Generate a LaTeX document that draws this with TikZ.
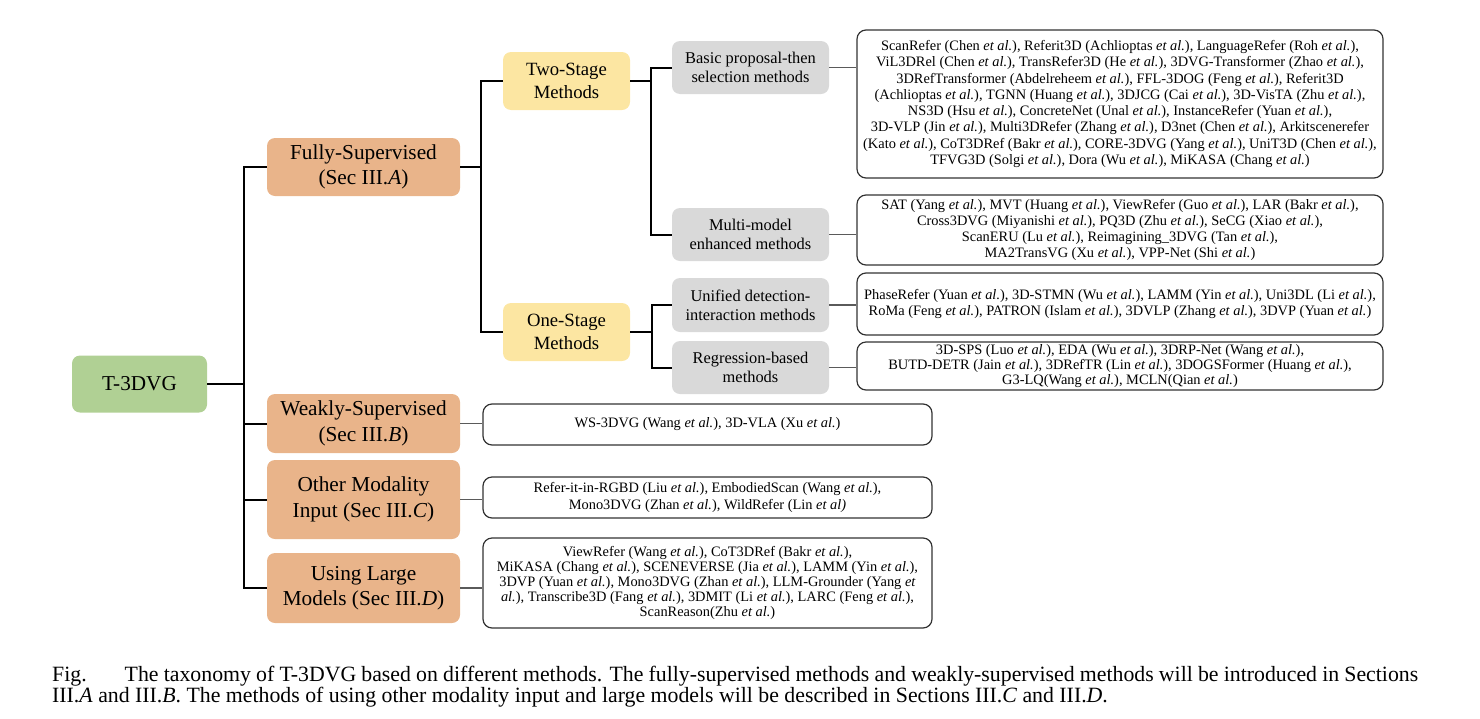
\documentclass[tikz,border=0pt]{standalone}
\usepackage{fontspec}
\setmainfont{Liberation Serif}
\usetikzlibrary{positioning}
\definecolor{rootgreen}{RGB}{176,208,148}
\definecolor{catorange}{RGB}{233,180,138}
\definecolor{stageyellow}{RGB}{252,230,162}
\definecolor{methgray}{RGB}{217,217,217}
\definecolor{leafedge}{RGB}{50,50,50}
\definecolor{leaflink}{RGB}{90,90,90}
\newcommand{\etal}{\textit{et al.}}

\begin{document}
\begin{tikzpicture}[x=1pt, y=-1pt,
  box/.style={rounded corners=8pt, align=center, inner sep=0pt},
  rootbox/.style={box, fill=rootgreen, minimum width=135pt, minimum height=57pt, font=\fontsize{21.2}{25}\selectfont},
  catbox/.style={box, fill=catorange, minimum width=193pt, font=\fontsize{21.3}{25.5}\selectfont},
  stagebox/.style={box, fill=stageyellow, minimum width=127pt, minimum height=58pt, font=\fontsize{18.7}{22.5}\selectfont},
  methbox/.style={box, fill=methgray, minimum width=157pt, minimum height=53pt, font=\fontsize{16.4}{19}\selectfont},
  leafbox/.style={draw=leafedge, line width=1.2pt, rounded corners=9pt, align=center, inner sep=0pt, font=\fontsize{14.4}{16.3}\selectfont},
  tree/.style={line width=2pt},
  leaflink/.style={draw=leaflink, line width=1.3pt}]
\useasboundingbox (0,0) rectangle (1480,718);

\node[rootbox] at (139.5,384) (root) {T-3DVG} ;
\node[catbox, minimum height=58pt] at (363.5,167) (fully) {Fully-Supervised\\(Sec III.\textit{A})} ;
\node[catbox, minimum height=59pt] at (363.5,423.5) (weakly) {Weakly-Supervised\\(Sec III.\textit{B})} ;
\node[catbox, minimum height=79pt] at (363.5,499.5) (other) {Other Modality\\Input (Sec III.\textit{C})} ;
\node[catbox, minimum height=70pt] at (363.5,588) (large) {Using Large\\Models (Sec III.\textit{D})} ;

\node[stagebox] at (566.5,81) (twostage) {Two-Stage\\Methods} ;
\node[stagebox] at (566.5,332) (onestage) {One-Stage\\Methods} ;

\node[methbox] at (750.5,67.5) (basic) {Basic proposal-then\\selection methods} ;
\node[methbox] at (750.5,234.5) (multi) {Multi-model\\enhanced methods} ;
\node[methbox, minimum height=54pt] at (750.5,305) (unified) {Unified detection-\\interaction methods} ;
\node[methbox] at (750.5,367.5) (regress) {Regression-based\\methods} ;

\node[leafbox, minimum width=526pt, minimum height=148pt] at (1120,104) (lbasic) {ScanRefer (Chen \etal), Referit3D (Achlioptas \etal), LanguageRefer (Roh \etal),\\ViL3DRel (Chen \etal), TransRefer3D (He \etal), 3DVG-Transformer (Zhao \etal),\\3DRefTransformer (Abdelreheem \etal), FFL-3DOG (Feng \etal), Referit3D\\(Achlioptas \etal), TGNN (Huang \etal), 3DJCG (Cai \etal), 3D-VisTA (Zhu \etal),\\NS3D (Hsu \etal), ConcreteNet (Unal \etal), InstanceRefer (Yuan \etal),\\3D-VLP (Jin \etal), Multi3DRefer (Zhang \etal), D3net (Chen \etal), Arkitscenerefer\\(Kato \etal), CoT3DRef (Bakr \etal), CORE-3DVG (Yang \etal), UniT3D (Chen \etal),\\TFVG3D (Solgi \etal), Dora (Wu \etal), MiKASA (Chang \etal)} ;
\node[leafbox, minimum width=526pt, minimum height=70pt] at (1120,230) (lmulti) {SAT (Yang \etal), MVT (Huang \etal), ViewRefer (Guo \etal), LAR (Bakr \etal),\\Cross3DVG (Miyanishi \etal), PQ3D (Zhu \etal), SeCG (Xiao \etal),\\ScanERU (Lu \etal), Reimagining\_3DVG (Tan \etal),\\MA2TransVG (Xu \etal), VPP-Net (Shi \etal)} ;
\node[leafbox, minimum width=526pt, minimum height=62pt] at (1120,304) (lunified) {PhaseRefer (Yuan \etal), 3D-STMN (Wu \etal), LAMM (Yin \etal), Uni3DL (Li \etal),\\RoMa (Feng \etal), PATRON (Islam \etal), 3DVLP (Zhang \etal), 3DVP (Yuan \etal)} ;
\node[leafbox, minimum width=526pt, minimum height=48pt, font=\fontsize{14.4}{15}\selectfont] at (1120,366) (lregress) {3D-SPS (Luo \etal), EDA (Wu \etal), 3DRP-Net (Wang \etal),\\BUTD-DETR (Jain \etal), 3DRefTR (Lin \etal), 3DOGSFormer (Huang \etal),\\G3-LQ(Wang \etal), MCLN(Qian \etal)} ;
\node[leafbox, minimum width=449pt, minimum height=41pt] at (707.5,424.5) (lweakly) {WS-3DVG (Wang \etal), 3D-VLA (Xu \etal)} ;
\node[leafbox, minimum width=449pt, minimum height=41pt] at (707.5,497.5) (lother) {Refer-it-in-RGBD (Liu \etal), EmbodiedScan (Wang \etal),\\Mono3DVG (Zhan \etal), WildRefer (Lin \textit{et al)}} ;
\node[leafbox, minimum width=449pt, minimum height=90pt, font=\fontsize{14.4}{15}\selectfont] at (707.5,583) (llarge) {ViewRefer (Wang \etal), CoT3DRef (Bakr \etal),\\MiKASA (Chang \etal), SCENEVERSE (Jia \etal), LAMM (Yin \etal),\\3DVP (Yuan \etal), Mono3DVG (Zhan \etal), LLM-Grounder (Yang \textit{et}\\\textit{al.}), Transcribe3D (Fang \etal), 3DMIT (Li \etal), LARC (Feng \etal),\\ScanReason(Zhu \etal)} ;

\draw[tree] (root.east) -- ++(37,0) ;
\draw[tree] (fully.west) -- ++(-23,0) |- (large.west) ;
\draw[tree] (weakly.west) -- ++(-23,0) ;
\draw[tree] (other.west) -- ++(-23,0) ;
\draw[tree] (fully.east) -- ++(21,0) ;
\draw[tree] (twostage.west) -- ++(-22,0) |- (onestage.west) ;
\draw[tree] (twostage.east) -- ++(21,0) ;
\draw[tree] (basic.west) -- ++(-21,0) |- (multi.west) ;
\draw[tree] (onestage.east) -- ++(22,0) ;
\draw[tree] (unified.west) -- ++(-20,0) |- (regress.west) ;

\draw[leaflink] (basic.east) -- (basic.east -| lbasic.west) ;
\draw[leaflink] (multi.east) -- (multi.east -| lmulti.west) ;
\draw[leaflink] (unified.east) -- (unified.east -| lunified.west) ;
\draw[leaflink] (regress.east) -- (regress.east -| lregress.west) ;
\draw[leaflink] (weakly.east) -- (weakly.east -| lweakly.west) ;
\draw[leaflink] (other.east) -- (other.east -| lother.west) ;
\draw[leaflink] (large.east) -- (large.east -| llarge.west) ;

\node[anchor=base west, inner sep=0pt, font=\fontsize{21.8}{22}\selectfont] at (52,681) (caption1) {\makebox[1366pt][s]{Fig.\hspace{38pt}The taxonomy of T-3DVG based on different methods. The fully-supervised methods and weakly-supervised methods will be introduced in Sections}} ;
\node[anchor=base west, inner sep=0pt, font=\fontsize{21.8}{22}\selectfont] at (52,702) (caption2) {III.\textit{A} and III.\textit{B}. The methods of using other modality input and large models will be described in Sections III.\textit{C} and III.\textit{D}.} ;
\end{tikzpicture}
\end{document}
